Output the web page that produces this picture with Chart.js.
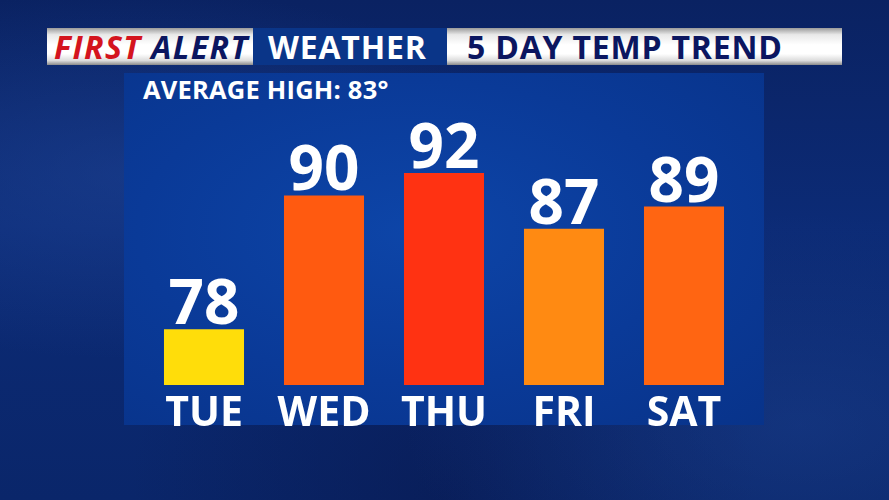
<!DOCTYPE html>
<html>
<head>
<meta charset="utf-8">
<script src="https://cdn.jsdelivr.net/npm/chart.js@4"></script>
<style>
  html,body{margin:0;padding:0;width:889px;height:500px;overflow:hidden;}
  body{position:relative;background:
    radial-gradient(ellipse at 15% 35%, rgba(35,75,160,0.45) 0%, rgba(20,50,130,0) 40%),
    radial-gradient(ellipse at 90% 85%, rgba(35,75,155,0.35) 0%, rgba(20,50,130,0) 35%),
    radial-gradient(ellipse at 50% 100%, rgba(8,25,80,0.6) 0%, rgba(8,25,80,0) 50%),
    linear-gradient(180deg,#0a2262 0%,#0c2b76 45%,#0a266a 100%);
    font-family:"Open Sans",sans-serif;}
  #hdr{position:absolute;left:47px;top:28px;width:795px;height:37px;}
  .seg{position:absolute;top:0;height:37px;line-height:37px;font-weight:700;font-size:32px;white-space:nowrap;}
  .white{background:linear-gradient(180deg,#9a9a9a 0%,#e8e8e8 18%,#ffffff 45%,#ffffff 70%,#dcdcdc 88%,#8a8a8a 100%);}
  #s1{left:0;width:206px;}
  #s2{left:206px;width:194px;background:#0a3588;color:#fff;}
  #s3{left:400px;width:395px;color:#0b1660;}
  #panel{position:absolute;left:124px;top:73px;width:640px;height:352px;
    background:radial-gradient(ellipse at 45% 45%, #0d45a8 0%, #0a3a98 55%, #08338a 100%);}
  #avg{position:absolute;left:143px;top:71px;color:#fff;font-weight:700;font-size:25.5px;line-height:36px;letter-spacing:0.2px;}
  canvas{position:absolute;left:0;top:0;}
</style>
</head>
<body>
<div id="hdr">
  <div class="seg white" id="s1"><span style="position:absolute;left:7px;font-style:italic;letter-spacing:1.4px;"><span style="color:#d4141e">FIRST</span> <span style="color:#0b1660">ALERT</span></span></div>
  <div class="seg" id="s2"><span style="position:absolute;left:15px;letter-spacing:0.8px;">WEATHER</span></div>
  <div class="seg white" id="s3"><span style="position:absolute;left:20px;letter-spacing:0.8px;">5 DAY TEMP TREND</span></div>
</div>
<div id="panel"></div>
<div id="avg">AVERAGE HIGH: 83°</div>
<canvas id="c" width="889" height="500"></canvas>
<script>
const days = ["TUE","WED","THU","FRI","SAT"];
const highs = [78, 90, 92, 87, 89];
const barColors = ["#ffdd0a","#ff5a10","#ff3212","#ff8a12","#ff6512"];

const valueLabels = {
  id:'valueLabels',
  afterDatasetsDraw(chart){
    const ctx = chart.ctx;
    const meta = chart.getDatasetMeta(0);
    ctx.save();
    ctx.fillStyle = '#ffffff';
    ctx.font = '700 62px "Open Sans"';
    ctx.textAlign = 'center';
    ctx.textBaseline = 'alphabetic';
    meta.data.forEach((bar,i)=>{
      ctx.fillText(String(highs[i]), bar.x, bar.y - 5);
    });
    ctx.restore();
  }
};

new Chart(document.getElementById('c'), {
  type:'bar',
  data:{labels:days, datasets:[{data:highs, backgroundColor:barColors, borderWidth:0,
    barPercentage:0.667, categoryPercentage:1.0}]},
  options:{
    responsive:false, animation:false,
    layout:{padding:{left:144,right:145,top:95,bottom:70}},
    plugins:{legend:{display:false},tooltip:{enabled:false}},
    scales:{
      y:{display:false,min:73,max:99},
      x:{grid:{display:false},border:{display:false},
        ticks:{color:'#ffffff',font:{family:'"Open Sans"',weight:'700',size:41},padding:-3},
        afterFit(s){ s.height = 45; }}
    }
  },
  plugins:[valueLabels]
});
</script>
</body>
</html>
